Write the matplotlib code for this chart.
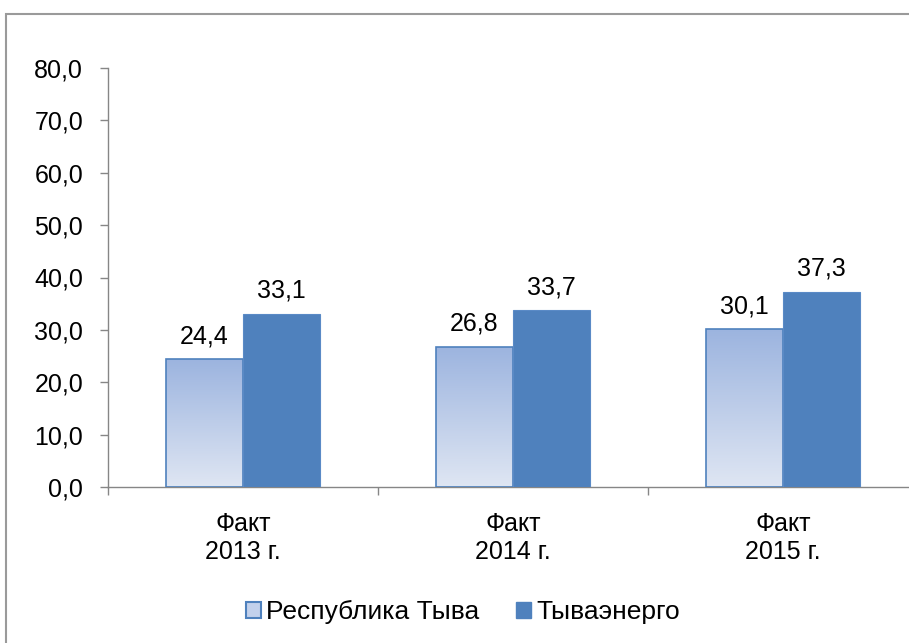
import matplotlib
matplotlib.use("Agg")
import matplotlib.pyplot as plt
import numpy as np
from matplotlib.patches import Rectangle, Patch
from matplotlib.colors import LinearSegmentedColormap

categories = ["Факт\n2013 г.", "Факт\n2014 г.", "Факт\n2015 г."]
series_names = ["Республика Тыва", "Тываэнерго"]
tyva = [24.4, 26.8, 30.1]
tyvaenergo = [33.1, 33.7, 37.3]
yticks = [0, 10, 20, 30, 40, 50, 60, 70, 80]

plt.rcParams['font.family'] = ['Liberation Sans', 'DejaVu Sans']
FS = 18

fig = plt.figure(figsize=(9.09, 6.43), dpi=100)
# outer frame
fig.patches.append(Rectangle((6/909, -0.01), 1.0, 1 - 14/643 + 0.01, transform=fig.transFigure,
                             fill=False, edgecolor='#9a9a9a', linewidth=1.5))

ax = fig.add_axes([108/909, 1 - 487/643, 810/909, (487 - 68)/643])
x = np.arange(len(categories))
w = 0.285
blue = '#4f81bd'
cmap = LinearSegmentedColormap.from_list('g', ['#dfe6f3', '#9cb4df'])

bars1 = ax.bar(x - w/2, tyva, w, facecolor='none', edgecolor=blue, linewidth=1.2, label=series_names[0], zorder=3)
for b in bars1:
    x0, y0 = b.get_x(), b.get_y()
    bw, bh = b.get_width(), b.get_height()
    grad = np.linspace(0, 1, 256).reshape(-1, 1)
    im = ax.imshow(grad, cmap=cmap, origin='lower', aspect='auto',
                   extent=[x0, x0 + bw, y0, y0 + bh], zorder=2)
    im.set_clip_path(b)
bars2 = ax.bar(x + w/2, tyvaenergo, w, color=blue, edgecolor='#5a8ac6', linewidth=0.8, label=series_names[1], zorder=3)

for bars, vals in [(bars1, tyva), (bars2, tyvaenergo)]:
    for b, v in zip(bars, vals):
        ax.annotate(f"{v:.1f}".replace('.', ','), (b.get_x() + b.get_width()/2, v),
                    xytext=(0, 8), textcoords='offset points', ha='center', va='bottom',
                    fontsize=FS, color='#000000')

ax.set_xlim(-0.5, 2.5)
ax.set_ylim(0, 80)
ax.set_yticks(yticks)
ax.set_yticklabels([f"{t:.1f}".replace('.', ',') for t in yticks], fontsize=FS)
ax.set_xticks(x)
ax.set_xticklabels(categories, fontsize=FS, linespacing=1.2)
ax.tick_params(axis='x', length=0, pad=18)
ax.set_xticks([-0.5, 0.5, 1.5, 2.5], minor=True)
ax.tick_params(axis='x', which='minor', length=6, color='#868686', width=1)
ax.tick_params(axis='y', length=6, color='#868686', width=1, pad=12)
for s in ['top', 'right']:
    ax.spines[s].set_visible(False)
for s in ['left', 'bottom']:
    ax.spines[s].set_color('#868686')
    ax.spines[s].set_linewidth(1)

handles = [Patch(facecolor='#c3d1ec', edgecolor=blue, linewidth=1.5),
           Patch(facecolor=blue, edgecolor=blue)]
fig.legend(handles, series_names, loc='center', bbox_to_anchor=(463/909, 1 - 612/643),
           ncol=2, frameon=False, fontsize=FS + 1, handlelength=0.55, handleheight=0.55,
           handletextpad=0.2, columnspacing=1.4)

fig.savefig('out.png', dpi=100)
